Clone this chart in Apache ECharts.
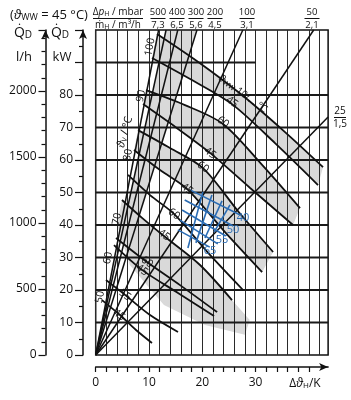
<!DOCTYPE html>
<html>
<head>
<meta charset="utf-8">
<script src="https://cdn.jsdelivr.net/npm/echarts@6/dist/echarts.min.js"></script>
<style>
html, body { margin: 0; padding: 0; background: #fff; }
#chart { width: 351px; height: 400px; }
</style>
</head>
<body>
<div id="chart"></div>
<script>
// Δϑ_H [K] on x, Q_D [kW] on y

// straight lines from the origin (one per pump flow), end points [dT, Q]
var fanEnds = [[11.8, 100], [13.2, 100], [15.4, 100], [19.0, 100], [27.6, 100], [40.9, 100], [43.6, 73.2]];
var topNum = ['500', '400', '300', '200', '100', '50'];
var topDen = ['7,3', '6,5', '5,6', '4,5', '3,1', '2,1'];

// descending curves (flow temperature / hot water temperature)
var curve1 = [[11.5, 98.8], [19.57, 89.8], [27.45, 80.0], [35.52, 68.6], [42.65, 57.8]];
var curve2 = [[10.56, 91.4], [18.07, 84.6], [25.57, 77.2], [33.64, 65.2], [41.71, 52.3]];
var curve3 = [[9.44, 81.5], [16.75, 76.9], [23.88, 71.1], [31.22, 58.5], [38.33, 45.2]];
var curve4 = [[8.88, 77.2], [15.25, 69.8], [21.44, 62.2], [28.97, 51.4], [37.02, 40.0]];
var curve5 = [[7.94, 69.2], [13.94, 63.7], [20.13, 57.5], [26.83, 44.0], [33.28, 31.7]];
var curve6 = [[7.19, 63.1], [12.07, 56.9], [17.13, 51.1], [24.26, 37.8], [31.22, 25.5]];
var curve7 = [[6.06, 55.4], [10.19, 49.2], [14.69, 43.4], [21.44, 30.8], [27.64, 20.0]];
var curve8 = [[4.93, 47.7], [8.69, 42.2], [12.81, 36.6], [19.57, 27.7], [25.57, 16.9]];
var curve9 = [[3.81, 36.0], [9.62, 28.6], [15.82, 21.5], [22.76, 13.2]];
var curve10 = [[3.43, 33.8], [8.69, 26.2], [15.44, 19.1], [22.20, 12.0]];
var curve11 = [[1.93, 23.1], [5.50, 18.5], [10.19, 12.3], [15.44, 7.1]];
var curve12 = [[1.18, 16.9], [4.56, 12.3], [7.56, 7.7], [10.56, 3.7]];
var curves = [curve1, curve2, curve3, curve4, curve5, curve6, curve7, curve8, curve9, curve10, curve11, curve12];
var curveLabels = ['45', '60', '45', '60', '45', '60', '45', '60', '45', '55', '45'];
var flowTemps = ['100', '90', '80', '70', '60', '50'];

// grey areas
var bandPairs = [[curve1, curve2], [curve3, curve4], [curve5, curve6]];
var greyStrip = [[13.2, 100], [19.0, 100], [7.6, 40], [5.3, 40]];
var greyLower = [[4.93, 47.7], [8.69, 42.2], [12.81, 36.6], [19.57, 27.7], [25.57, 16.9], [28.9, 10.8], [28.0, 6.2], [20.5, 9.2], [12.8, 15.4], [6.4, 27.7], [4.0, 40.0]];

// blue example grid
var blueDown = [
    [[17.7, 50.8], [27.1, 43.1]],
    [[16.7, 47.7], [25.8, 39.7]],
    [[16.2, 44.6], [24.4, 36.6]],
    [[15.8, 41.5], [22.9, 34.2]],
    [[15.4, 38.5], [21.4, 33.2]]
];
var blueUp = [
    [[17.3, 32.9], [20.1, 50.2]],
    [[18.8, 34.5], [21.8, 49.2]],
    [[20.5, 36.0], [23.7, 47.4]],
    [[22.2, 37.8], [25.2, 46.2]]
];
var blueLabels = ['40', '50', '55', '65'];

// axes
var gridQ = [10, 20, 30, 40, 50, 60, 70, 80, 90];
var gridQEnd = [43.6, 43.6, 43.6, 43.6, 43.6, 43.6, 43.6, 43.6, 30];
var kwMaxLabel = 80;
var lhMaxLabel = 2000;
var dtLabels = [0, 10, 20, 30];
var dtTicks = [0, 2, 4, 6, 8, 10, 12, 14, 16, 18, 20, 22, 24, 26, 28, 30, 32, 34, 36, 38, 40];

var FONT = '"Open Sans", "DejaVu Sans", sans-serif';
var BLUE = '#2b6cb3';

function rich(size, color) {
    return {
        i: { fontSize: size, fontStyle: 'italic', fontFamily: FONT, fill: color },
        s: { fontSize: Math.round(size * 0.68), fontFamily: FONT, fill: color, verticalAlign: 'bottom' }
    };
}

function txt(x, y, text, opt) {
    opt = opt || {};
    var size = opt.size || 12;
    var color = opt.color || '#111';
    return {
        type: 'text', x: x, y: y, rotation: opt.rot || 0, z: 20, silent: true,
        style: {
            text: text, fill: color, fontSize: size, fontFamily: FONT,
            align: opt.align || 'center', verticalAlign: 'middle',
            rich: rich(size, color)
        }
    };
}

function bar(x1, x2, y) {
    return { type: 'line', z: 20, silent: true, shape: { x1: x1, y1: y, x2: x2, y2: y }, style: { stroke: '#111', lineWidth: 1 } };
}

var chart = echarts.init(document.getElementById('chart'), null, { renderer: 'canvas' });

var series = [];

// grey fills, under the grid lines
var greyPolys = bandPairs.map(function (p) { return p[0].concat(p[1].slice().reverse()); });
greyPolys.push(greyStrip, greyLower);
series.push({
    type: 'custom', z: -1, silent: true, clip: true,
    data: greyPolys.map(function (p) { return p[0]; }),
    renderItem: function (params, api) {
        var pts = greyPolys[params.dataIndex].map(function (p) { return api.coord(p); });
        return { type: 'polygon', shape: { points: pts }, style: { fill: '#d9d9d9' } };
    }
});

// horizontal grid lines
gridQ.forEach(function (q, i) {
    series.push({
        type: 'line', data: [[0, q], [gridQEnd[i], q]], showSymbol: false, silent: true, z: 1,
        lineStyle: { color: '#1a1a1a', width: 2 }
    });
});

fanEnds.forEach(function (e) {
    series.push({
        type: 'line', data: [[0, 0], e], showSymbol: false, silent: true, z: 3,
        lineStyle: { color: '#111', width: 1.5 }
    });
});

curves.forEach(function (c) {
    series.push({
        type: 'line', data: c, showSymbol: false, silent: true, smooth: 0.3, z: 3,
        lineStyle: { color: '#111', width: 1.8 }
    });
});

blueDown.concat(blueUp).forEach(function (b) {
    series.push({
        type: 'line', data: b, showSymbol: false, silent: true, z: 4,
        lineStyle: { color: BLUE, width: 1.6 }
    });
});

// texts
var g = [];
g.push(txt(49, 15, '({i|ϑ}{s|WW} = 45 °C)', { size: 13 }));
g.push(txt(118, 12, 'Δ{i|p}{s|H} / mbar', { size: 10 }));
g.push(bar(93, 143, 18.5));
g.push(txt(118, 25, 'ṁ{s|H} / m³/h', { size: 10 }));
var topX = [158, 177, 196, 215, 247, 312];
topNum.forEach(function (t, i) {
    g.push(txt(topX[i], 12, t, { size: 9.5 }));
    g.push(bar(topX[i] - 7.5, topX[i] + 7.5, 18.5));
    g.push(txt(topX[i], 25, topDen[i], { size: 9.5 }));
});
g.push(txt(340, 111, '25', { size: 10 }));
g.push(bar(334, 346, 117.5));
g.push(txt(340, 124, '1,5', { size: 10 }));

g.push(txt(23, 33, 'Q̇{s|D}', { size: 14 }));
g.push(txt(60, 33, 'Q̇{s|D}', { size: 14 }));
g.push(txt(24, 57, 'l/h', { size: 13 }));
g.push(txt(62, 57, 'kW', { size: 13 }));
g.push(txt(305, 384, 'Δ{i|ϑ}{s|H}/K', { size: 12 }));

var vPos = [[150, 47], [141, 96], [128, 155], [117, 219], [108, 258], [100, 297]];
flowTemps.forEach(function (t, i) {
    g.push(txt(vPos[i][0], vPos[i][1], t, { size: 10.5, rot: 1.38 }));
});
g.push(txt(125, 132, '{i|ϑ}{s|V} / °C', { size: 11, rot: 1.3 }));
g.push(txt(243, 94, '{i|ϑ}{s|WW} 10/... °C', { size: 10, rot: -0.62 }));

var lPos = [[232, 102], [223, 122], [210, 153], [203, 167], [187, 189], [174, 214], [164, 235], [147, 262], [142, 270], [125, 295], [119, 315]];
curveLabels.forEach(function (t, i) {
    g.push(txt(lPos[i][0], lPos[i][1], t, { size: 10.5, rot: -0.62 }));
});

var bPos = [[243, 218], [233, 230], [222, 240], [210, 251]];
blueLabels.forEach(function (t, i) {
    g.push(txt(bPos[i][0], bPos[i][1], t, { size: 11, color: BLUE }));
});

var axisText = { fontFamily: FONT, fontSize: 12, color: '#111' };
var hidden = { show: false };

function arrowLine() {
    return { show: true, onZero: false, symbol: ['none', 'arrow'], symbolSize: [6, 9], lineStyle: { color: '#111', width: 1.5 } };
}
function ticks(len) {
    return { show: true, length: len, lineStyle: { color: '#111', width: 1.2 } };
}

chart.setOption({
    animation: false,
    grid: { left: 95.7, right: 22.9, top: 30, bottom: 45, show: true, borderColor: '#111', borderWidth: 1.5, backgroundColor: 'transparent' },
    xAxis: [{
        type: 'value', min: 0, max: 43.6, interval: 2,
        axisLine: hidden, axisTick: hidden, axisLabel: hidden,
        splitLine: { show: true, lineStyle: { color: '#2a2a2a', width: 1 } }
    }, {
        type: 'value', min: 0, max: 43.6, position: 'bottom', offset: 12,
        axisLine: arrowLine(),
        axisTick: Object.assign(ticks(5), { customValues: dtTicks }),
        axisLabel: Object.assign({ customValues: dtLabels, margin: 10 }, axisText),
        splitLine: hidden
    }],
    yAxis: [{
        type: 'value', min: 0, max: 100,
        axisLine: hidden, axisTick: hidden, axisLabel: hidden, splitLine: hidden
    }, {
        type: 'value', min: 0, max: 100, interval: 10, position: 'left', offset: 12.7,
        axisLine: arrowLine(),
        axisTick: ticks(8),
        minorTick: { show: true, splitNumber: 2, length: 4, lineStyle: { color: '#111', width: 1.2 } },
        axisLabel: Object.assign({
            margin: 10,
            formatter: function (v) { return v <= kwMaxLabel ? String(v) : ''; }
        }, axisText),
        splitLine: hidden, minorSplitLine: hidden
    }, {
        type: 'value', min: 0, max: 2462, interval: 500, position: 'left', offset: 50.2,
        axisLine: arrowLine(),
        axisTick: ticks(7),
        minorTick: { show: true, splitNumber: 5, length: 4, lineStyle: { color: '#111', width: 1.2 } },
        axisLabel: Object.assign({
            margin: 9, showMaxLabel: false,
            formatter: function (v) { return v <= lhMaxLabel ? String(v) : ''; }
        }, axisText),
        splitLine: hidden, minorSplitLine: hidden
    }],
    series: series,
    graphic: g
});
</script>
</body>
</html>
